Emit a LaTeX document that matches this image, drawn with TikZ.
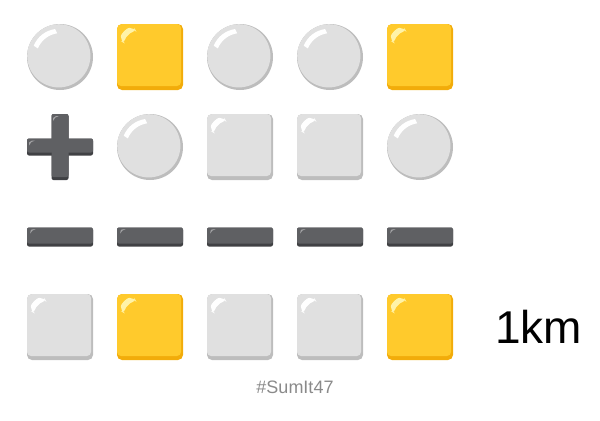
\documentclass[tikz,border=0pt]{standalone}
\usepackage{fontspec}
\setmainfont{Liberation Sans}
\usepackage{tikz}
\usetikzlibrary{positioning, calc}
\definecolor{ballface}{HTML}{E0E0E0}
\definecolor{ballrim}{HTML}{BDBDBD}
\definecolor{goldface}{HTML}{FFCA2C}
\definecolor{goldrim}{HTML}{F2AC0A}
\definecolor{goldshine}{HTML}{FFF3A8}
\definecolor{markface}{HTML}{5F6063}
\definecolor{markrim}{HTML}{404144}
\definecolor{markshine}{HTML}{A3A3A5}
\definecolor{tagtext}{HTML}{8A8A8A}
\tikzset{
  ball/.style={circle, minimum size=33pt, inner sep=0pt, outer sep=0pt,
               fill=ballrim,
               path picture={
                 \coordinate (bc) at ([shift={(-1.2,1.2)}]path picture bounding box.center);
                 \fill[ballface] (bc) circle (31.6);
                 \fill[white] ($(bc)+(98:27)$) arc[start angle=98, end angle=158, radius=27]
                   -- ($(bc)+(1.8,-1.8)+(158:24.5)$) arc[start angle=158, end angle=98, radius=24.5]
                   -- cycle;
               }},
  tile/.style n args={3}{rectangle, rounded corners=2.5pt, minimum size=33pt,
               inner sep=0pt, outer sep=0pt, fill=#2,
               path picture={
                 \fill[#1, rounded corners=2pt] (path picture bounding box.north west)
                   rectangle ([shift={(-2,4)}]path picture bounding box.south east);
                 \coordinate (hc) at ([shift={(18,-18)}]path picture bounding box.north west);
                 \fill[#3] ($(hc)+(93:14.5)$) arc[start angle=93, end angle=177, radius=14.5]
                   -- ($(hc)+(2.2,-2.2)+(177:12)$) arc[start angle=177, end angle=93, radius=12]
                   -- cycle;
               }},
  gbox/.style={tile={ballface}{ballrim}{white}},
  ybox/.style={tile={goldface}{goldrim}{goldshine}},
  plusmark/.style={rectangle, minimum size=33pt, inner sep=0pt, outer sep=0pt,
               path picture={
                 \fill[markrim, rounded corners=1pt] ([shift={(-8.5,-33)}]path picture bounding box.center)
                   rectangle ([shift={(8.5,33)}]path picture bounding box.center);
                 \fill[markrim, rounded corners=1pt] ([shift={(-33,-8.5)}]path picture bounding box.center)
                   rectangle ([shift={(33,8.5)}]path picture bounding box.center);
                 \fill[markface, rounded corners=1pt] ([shift={(-33,-5.5)}]path picture bounding box.center)
                   rectangle ([shift={(33,8.5)}]path picture bounding box.center);
                 \fill[markface, rounded corners=1pt] ([shift={(-8.5,-30)}]path picture bounding box.center)
                   rectangle ([shift={(8.5,33)}]path picture bounding box.center);
                 \fill[markshine] ([shift={(-1,31)}]path picture bounding box.center)
                   to[bend right=30] ([shift={(-7,26)}]path picture bounding box.center)
                   -- ([shift={(-7,29)}]path picture bounding box.center)
                   to[bend left=20] ([shift={(-4,31)}]path picture bounding box.center) -- cycle;
                 \fill[markshine] ([shift={(-25,6.5)}]path picture bounding box.center)
                   to[bend right=30] ([shift={(-31,1.5)}]path picture bounding box.center)
                   -- ([shift={(-31,4.5)}]path picture bounding box.center)
                   to[bend left=20] ([shift={(-28,6.5)}]path picture bounding box.center) -- cycle;
               }},
  minusmark/.style={rectangle, rounded corners=1pt, minimum width=33pt, minimum height=9.5pt,
               inner sep=0pt, outer sep=0pt, fill=markrim,
               path picture={
                 \fill[markface, rounded corners=1pt] (path picture bounding box.north west)
                   rectangle ([shift={(0,3)}]path picture bounding box.south east);
                 \fill[markshine] ([shift={(10,-1.5)}]path picture bounding box.north west)
                   to[bend right=30] ([shift={(3,-7)}]path picture bounding box.north west)
                   -- ([shift={(3,-4)}]path picture bounding box.north west)
                   to[bend left=20] ([shift={(6,-1.5)}]path picture bounding box.north west) -- cycle;
               }},
  total/.style={font=\fontsize{23}{25}\selectfont, inner sep=0pt},
  tag/.style={font=\fontsize{9}{11}\selectfont, text=tagtext, inner sep=0pt},
}

\begin{document}
\begin{tikzpicture}[x=0.5pt, y=0.5pt, node distance=12pt]
  \useasboundingbox (0,0) rectangle (600,420);

  % first row
  \node[ball] (r1c1) at (60,363) {};
  \node[ybox, right=of r1c1] (r1c2) {};
  \node[ball, right=of r1c2] (r1c3) {};
  \node[ball, right=of r1c3] (r1c4) {};
  \node[ybox, right=of r1c4] (r1c5) {};

  % second row
  \node[plusmark, below=of r1c1] (r2c1) {};
  \node[ball, right=of r2c1] (r2c2) {};
  \node[gbox, right=of r2c2] (r2c3) {};
  \node[gbox, right=of r2c3] (r2c4) {};
  \node[ball, right=of r2c4] (r2c5) {};

  % minus bars
  \node[minusmark] (r3c1) at (60,183) {};
  \node[minusmark, right=of r3c1] (r3c2) {};
  \node[minusmark, right=of r3c2] (r3c3) {};
  \node[minusmark, right=of r3c3] (r3c4) {};
  \node[minusmark, right=of r3c4] (r3c5) {};

  % result row
  \node[gbox] (r4c1) at (60,93) {};
  \node[ybox, right=of r4c1] (r4c2) {};
  \node[gbox, right=of r4c2] (r4c3) {};
  \node[gbox, right=of r4c3] (r4c4) {};
  \node[ybox, right=of r4c4] (r4c5) {};

  \node[total, right=21pt of r4c5] (answer) {1km};
  \node[tag] (hashtag) at (295,33) {\#SumIt47};
\end{tikzpicture}
\end{document}
